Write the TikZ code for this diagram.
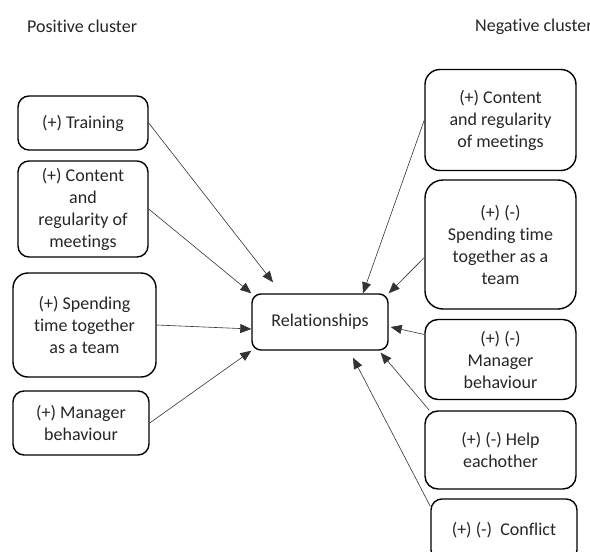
\documentclass[tikz,border=0pt]{standalone}
\usepackage{fontspec}
\setmainfont{Carlito}[Ligatures=NoCommon]
\usetikzlibrary{arrows.meta}
\tikzstyle{factor}=[rectangle,
	draw=black,
	line width=1.4pt,
	rounded corners=11pt,
	inner sep=0pt,
	align=center,
	text=black!85,
	font=\fontsize{18pt}{22pt}\selectfont]
\tikzstyle{heading}=[anchor=west,
	inner sep=0pt,
	text=black!85,
	font=\fontsize{18pt}{22pt}\selectfont]
\tikzstyle{link}=[-{Triangle[length=11pt,width=9pt]},
	line width=0.6pt,
	draw=black!80]
\begin{document}
\begin{tikzpicture}[x=1pt,y=-1pt]
					\useasboundingbox (0,0) rectangle (590,552);
					\node (poshead) [heading] at (27,26) {Positive cluster};
					\node (neghead) [heading] at (475,27) {Negative cluster};

					\node (rel) [factor, minimum width=136pt, minimum height=56pt, rounded corners=9pt] at (320,322) {Relationships};

					\node (trainpos) [factor, minimum width=130pt, minimum height=54pt] at (83,123) {(+) Training};
					\node (meetpos) [factor, minimum width=130pt, minimum height=96pt, below of=trainpos, node distance=86pt] {(+) Content\\and\\regularity of\\meetings};
					\node (timepos) [factor, minimum width=143pt, minimum height=104pt, rounded corners=15pt, below of=meetpos, node distance=116pt, xshift=1.5pt] {(+) Spending\\time together\\as a team};
					\node (bosspos) [factor, minimum width=136pt, minimum height=64pt, below of=timepos, node distance=98pt, xshift=-3.5pt] {(+) Manager\\behaviour};

					\node (meetneg) [factor, minimum width=151pt, minimum height=101pt, rounded corners=15pt] at (500.5,120) {(+) Content\\and regularity\\of meetings};
					\node (timeneg) [factor, minimum width=151pt, minimum height=129pt, rounded corners=18pt, below of=meetneg, node distance=124.5pt] {(+) (-)\\Spending time\\together as a\\team};
					\node (bossneg) [factor, minimum width=151pt, minimum height=80pt, rounded corners=13pt, below of=timeneg, node distance=115pt] {(+) (-)\\Manager\\behaviour};
					\node (helpneg) [factor, minimum width=151pt, minimum height=78pt, rounded corners=13pt, below of=bossneg, node distance=90.5pt] {(+) (-) Help\\eachother};
					\node (fightneg) [factor, minimum width=146pt, minimum height=62pt, below of=helpneg, node distance=80pt, xshift=3.5pt] {(+) (-)~~Conflict};

					\draw [link] (trainpos.east) -- ([xshift=-47pt,yshift=11pt]rel.north);
					\draw [link] (meetpos.east) -- (rel.north west);
					\draw [link] (timepos.east) -- ([yshift=-7pt]rel.west);
					\draw [link] (bosspos.east) -- (rel.south west);

					\draw [link] (meetneg.west) -- ([xshift=43pt]rel.north);
					\draw [link] ([yshift=-13pt]timeneg.west) -- (rel.north east);
					\draw [link] ([yshift=25pt]bossneg.west) -- ([xshift=2pt,yshift=-5pt]rel.east);
					\draw [link] ([xshift=5pt]helpneg.north west) -- ([xshift=-8pt,yshift=-2pt]rel.south east);
					\draw [link] ([yshift=-8pt]fightneg.north west) -- ([xshift=33pt,yshift=-7pt]rel.south);
				\end{tikzpicture}
\end{document}
